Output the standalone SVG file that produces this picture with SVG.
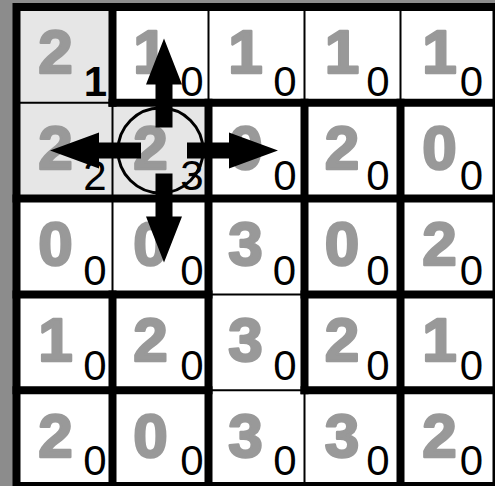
<svg xmlns="http://www.w3.org/2000/svg" width="495" height="486" viewBox="0 0 495 486">
<style>
.big{font-family:"Liberation Sans",Arial,sans-serif;font-weight:bold;font-size:62px;fill:#999999;stroke:#999999;stroke-width:2.5;stroke-linejoin:round;text-anchor:middle}
.sub{font-family:"Liberation Sans",Arial,sans-serif;font-size:42px;fill:#000;text-anchor:middle}
.thin{stroke:#000;stroke-width:2;fill:none}
.thick{stroke:#000;stroke-width:8;stroke-linecap:square;fill:none}
.arrow{fill:#000}
</style>
<rect x="0" y="0" width="495" height="486" fill="#8c8c8c"/>
<rect x="16.5" y="7" width="480" height="479" fill="#ffffff"/>
<g id="shaded">
<rect x="16.5" y="7" width="96" height="191.6" fill="#e6e6e6"/>
<rect x="112.5" y="102.8" width="96" height="95.8" fill="#e6e6e6"/>
</g>
<g id="grid-thin" class="thin">
<path d="M112.5 7V486M208.5 7V486M304.5 7V486M400.5 7V486M16.5 102.8H496.5M16.5 198.6H496.5M16.5 294.4H496.5M16.5 390.2H496.5"/>
</g>
<g id="grid-thick" class="thick">
<rect x="16.5" y="7" width="480" height="479" fill="none"/>
<path d="M112.5 7V102.8M112.5 294.4V486"/>
<path d="M208.5 102.8V486"/>
<path d="M304.5 102.8V390.2"/>
<path d="M400.5 102.8V486"/>
<path d="M112.5 102.8H496.5"/>
<path d="M16.5 198.6H496.5"/>
<path d="M16.5 294.4H208.5M304.5 294.4H496.5"/>
<path d="M16.5 390.2H208.5M304.5 390.2H496.5"/>
</g>
<g id="values">
<text class="big" x="55.5" y="73">2</text>
<text class="big" x="150.5" y="73">1</text>
<text class="big" x="245.5" y="73">1</text>
<text class="big" x="342" y="73">1</text>
<text class="big" x="439.5" y="73">1</text>
<text class="big" x="55.5" y="169">2</text>
<text class="big" x="150.5" y="169">2</text>
<text class="big" x="245.5" y="169">0</text>
<text class="big" x="342" y="169">2</text>
<text class="big" x="439.5" y="169">0</text>
<text class="big" x="55.5" y="265">0</text>
<text class="big" x="150.5" y="265">0</text>
<text class="big" x="245.5" y="265">3</text>
<text class="big" x="342" y="265">0</text>
<text class="big" x="439.5" y="265">2</text>
<text class="big" x="55.5" y="361">1</text>
<text class="big" x="150.5" y="361">2</text>
<text class="big" x="245.5" y="361">3</text>
<text class="big" x="342" y="361">2</text>
<text class="big" x="439.5" y="361">1</text>
<text class="big" x="55.5" y="457">2</text>
<text class="big" x="150.5" y="457">0</text>
<text class="big" x="245.5" y="457">3</text>
<text class="big" x="342" y="457">3</text>
<text class="big" x="439.5" y="457">2</text>
</g>
<g id="counts">
<text class="sub" x="95.5" y="95.5" font-weight="bold">1</text>
<text class="sub" x="192" y="95.5">0</text>
<text class="sub" x="285" y="95.5">0</text>
<text class="sub" x="378" y="95.5">0</text>
<text class="sub" x="471.5" y="95.5">0</text>
<text class="sub" x="95" y="190">2</text>
<text class="sub" x="192" y="190">3</text>
<text class="sub" x="285" y="190">0</text>
<text class="sub" x="378" y="190">0</text>
<text class="sub" x="471.5" y="190">0</text>
<text class="sub" x="95" y="285">0</text>
<text class="sub" x="192" y="285">0</text>
<text class="sub" x="284.5" y="285">0</text>
<text class="sub" x="378" y="285">0</text>
<text class="sub" x="471.5" y="285">0</text>
<text class="sub" x="95" y="380">0</text>
<text class="sub" x="192" y="380">0</text>
<text class="sub" x="285" y="380">0</text>
<text class="sub" x="378" y="380">0</text>
<text class="sub" x="471.5" y="380">0</text>
<text class="sub" x="95" y="475">0</text>
<text class="sub" x="192" y="475">0</text>
<text class="sub" x="285" y="475">0</text>
<text class="sub" x="378" y="475">0</text>
<text class="sub" x="471.5" y="475">0</text>
</g>
<g id="selector">
<circle cx="160.5" cy="150.5" r="42.5" fill="none" stroke="#000" stroke-width="3"/>
</g>
<g id="arrows" class="arrow">
<polygon points="155.5,127.5 155.5,84.5 146,84.5 164,38.5 182,84.5 172.5,84.5 172.5,127.5"/>
<polygon points="155.5,173.5 172.5,173.5 172.5,216.5 182,216.5 164,262.5 146,216.5 155.5,216.5"/>
<polygon points="141,142.5 99,142.5 99,132.5 50,150.5 99,168.5 99,158.5 141,158.5"/>
<polygon points="187,142.5 229,142.5 229,132.5 278,150.5 229,168.5 229,158.5 187,158.5"/>
</g>
</svg>
